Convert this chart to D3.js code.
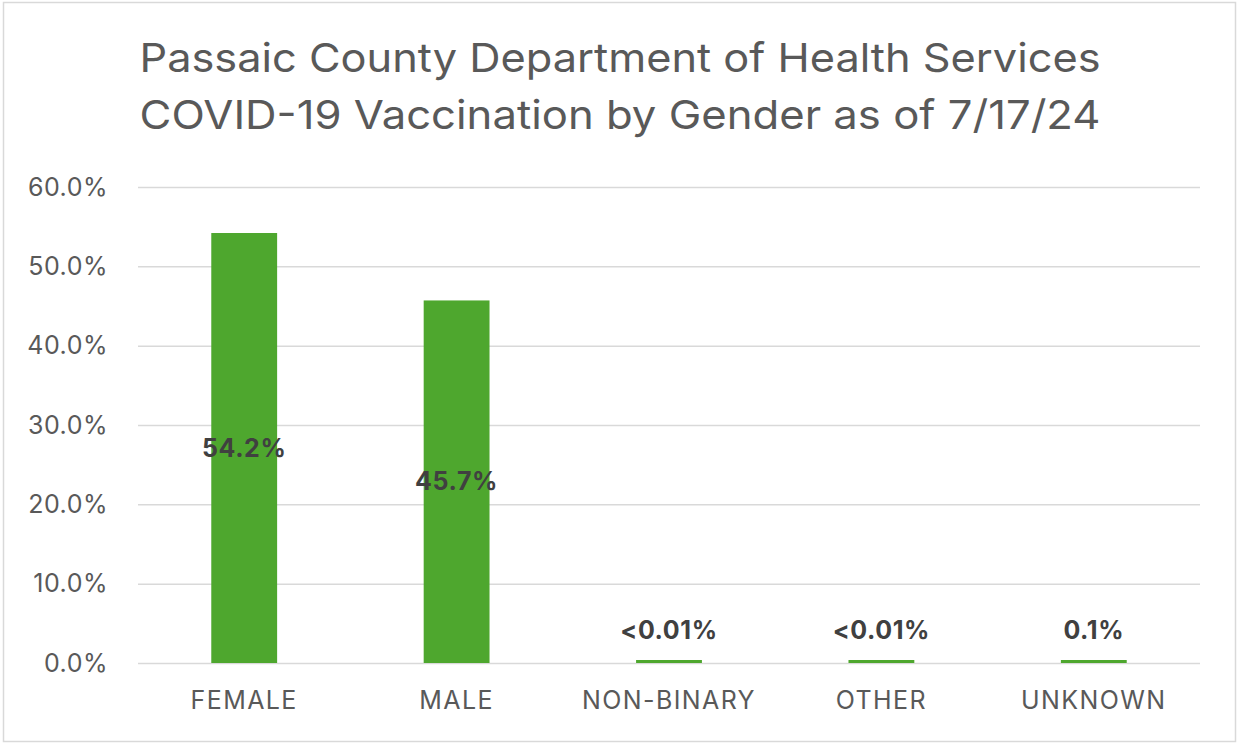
<!DOCTYPE html>
<html>
<head>
<meta charset="utf-8">
<script src="https://cdn.jsdelivr.net/npm/d3@7"></script>
<style>
  html, body { margin: 0; padding: 0; background: #fff; }
  svg { display: block; }
</style>
</head>
<body>
<div id="chart"></div>
<script>
// data
var categories = ["FEMALE", "MALE", "NON-BINARY", "OTHER", "UNKNOWN"];
var shares = [54.2, 45.7, 0.005, 0.005, 0.1];
var shareLabels = ["54.2%", "45.7%", "<0.01%", "<0.01%", "0.1%"];
var yTicks = [0, 10, 20, 30, 40, 50, 60];
var titleLines = [
    "Passaic County Department of Health Services",
    "COVID-19 Vaccination by Gender as of 7/17/24"
];

var width = 1238, height = 744;
var margin = {top: 187, right: 38, bottom: 81, left: 138};
var fontFamily = "Inter, 'Open Sans', 'Liberation Sans', sans-serif";

var svg = d3.select("#chart").append("svg")
    .attr("width", width)
    .attr("height", height);

// outer chart border
svg.append("rect")
    .attr("x", 3.5).attr("y", 2.5)
    .attr("width", width - 6).attr("height", height - 5)
    .attr("fill", "#fff")
    .attr("stroke", "#d9d9d9")
    .attr("stroke-width", 1.5);

var x = d3.scaleBand()
    .domain(categories)
    .range([margin.left, width - margin.right])
    .paddingInner(0.69)
    .paddingOuter(0.345);

var y = d3.scaleLinear()
    .domain([0, 60])
    .range([height - margin.bottom, margin.top]);

// title
svg.append("g").selectAll("text")
    .data(titleLines)
    .enter().append("text")
    .attr("x", 620)
    .attr("y", function (d, i) { return 72 + i * 57; })
    .attr("text-anchor", "middle")
    .attr("font-family", fontFamily)
    .attr("font-size", 40)
    .attr("fill", "#595959")
    .attr("textLength", 961)
    .attr("lengthAdjust", "spacingAndGlyphs")
    .text(function (d) { return d; });

// gridlines
svg.append("g")
    .attr("class", "grid")
    .attr("transform", "translate(" + margin.left + ",0)")
    .call(d3.axisLeft(y).tickValues(yTicks).tickSize(-(width - margin.left - margin.right)).tickFormat(""))
    .call(function (g) { g.select(".domain").remove(); })
    .selectAll("line")
    .attr("stroke", "#d9d9d9")
    .attr("stroke-width", 1.5);

// y axis labels
var yAxis = svg.append("g")
    .attr("transform", "translate(108,0)")
    .call(d3.axisLeft(y).tickValues(yTicks).tickSize(0).tickPadding(0)
        .tickFormat(function (d) { return d.toFixed(1) + "%"; }));
yAxis.select(".domain").remove();
yAxis.selectAll("text")
    .attr("font-family", fontFamily)
    .attr("font-size", 25)
    .attr("letter-spacing", 0.5)
    .attr("fill", "#595959");

// bars (tiny values still get a thin visible sliver like the original)
svg.append("g").selectAll("rect")
    .data(shares)
    .enter().append("rect")
    .attr("x", function (d, i) { return x(categories[i]); })
    .attr("width", x.bandwidth())
    .attr("y", function (d) { return Math.min(y(d), y(0) - 3); })
    .attr("height", function (d) { return Math.max(y(0) - y(d), 3); })
    .attr("fill", "#4ea72e");

// x axis labels
var xAxis = svg.append("g")
    .attr("transform", "translate(0," + y(0) + ")")
    .call(d3.axisBottom(x).tickSize(0).tickPadding(28));
xAxis.select(".domain").remove();
xAxis.selectAll("text")
    .attr("font-family", fontFamily)
    .attr("font-size", 25)
    .attr("letter-spacing", 1.4)
    .attr("fill", "#595959");

// data labels: centred inside large bars, above the small ones
svg.append("g").selectAll("text")
    .data(shares)
    .enter().append("text")
    .attr("x", function (d, i) { return x(categories[i]) + x.bandwidth() / 2; })
    .attr("y", function (d) {
        if (d > 5) return (y(d) + y(0)) / 2;
        return y(0) - 33;
    })
    .attr("dy", "0.35em")
    .attr("text-anchor", "middle")
    .attr("font-family", fontFamily)
    .attr("font-size", 25)
    .attr("letter-spacing", 0.6)
    .attr("font-weight", "bold")
    .attr("fill", "#404040")
    .text(function (d, i) { return shareLabels[i]; });
</script>
</body>
</html>
